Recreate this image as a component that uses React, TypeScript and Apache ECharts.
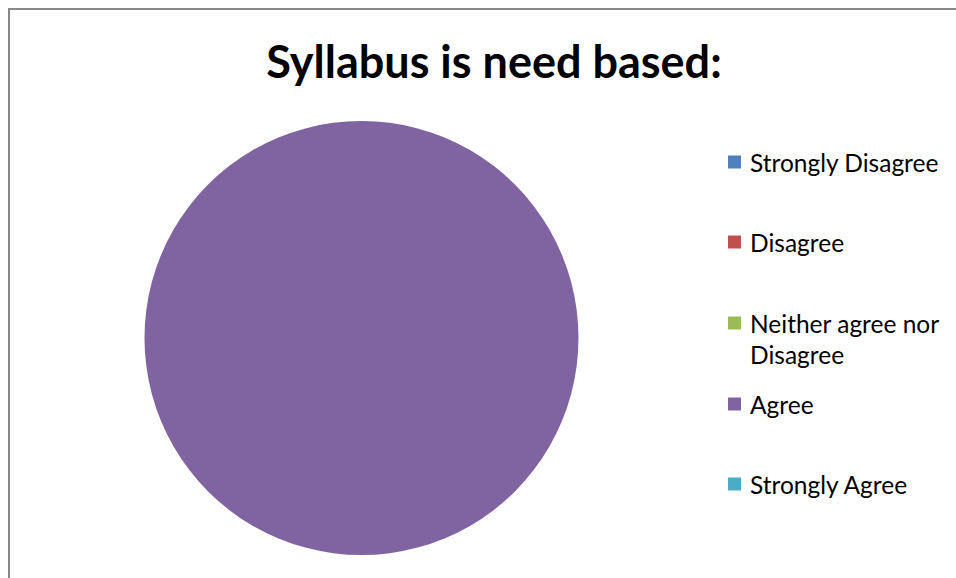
import React, { useEffect, useRef } from "react";
import * as echarts from "echarts";

const title = "Syllabus is need based:";
const categories = ["Strongly Disagree", "Disagree", "Neither agree nor Disagree", "Agree", "Strongly Agree"];
const legendLines = [["Strongly Disagree"], ["Disagree"], ["Neither agree nor", "Disagree"], ["Agree"], ["Strongly Agree"]];
const values = [0, 0, 0, 100, 0];
const colors = ["#4F81BD", "#C0504D", "#9BBB59", "#8064A2", "#4BACC6"];
const legendTops = [162, 242, 323, 404, 484];

export default function App() {
  const ref = useRef<HTMLDivElement>(null);
  useEffect(() => {
    const chart = echarts.init(ref.current!, null, { renderer: "svg" });
    const font = "Lato, 'Open Sans', sans-serif";
    const legendGraphics: any[] = [];
    categories.forEach((c, i) => {
      const y = legendTops[i];
      legendGraphics.push({
        type: "rect",
        shape: { x: 728, y: y - 6.5, width: 13, height: 13 },
        style: { fill: colors[i] },
      });
      legendLines[i].forEach((line, j) => {
        legendGraphics.push({
          type: "text",
          x: 750,
          y: y + j * 31,
          style: {
            text: line,
            font: `24.5px ${font}`,
            fill: "#000",
            textVerticalAlign: "middle",
            textAlign: "left",
          },
        });
      });
    });
    chart.setOption({
      animation: false,
      title: {
        text: title,
        left: 489,
        top: 33,
        textAlign: "center",
        textStyle: { fontFamily: font, fontSize: 45, fontWeight: "bold", color: "#000" },
      },
      graphic: [
        {
          type: "rect",
          shape: { x: 9, y: 9, width: 1200, height: 1200 },
          style: { fill: "none", stroke: "#888", lineWidth: 2 },
        },
        ...legendGraphics,
      ],
      series: [
        {
          type: "pie",
          center: [361.5, 338],
          radius: 217,
          startAngle: 90,
          label: { show: false },
          labelLine: { show: false },
          itemStyle: { borderWidth: 0 },
          emphasis: { disabled: true },
          data: categories.map((c, i) => ({ name: c, value: values[i], itemStyle: { color: colors[i] } })),
        },
      ],
    });
    return () => chart.dispose();
  }, []);
  return <div ref={ref} style={{ position: "fixed", left: 0, top: 0, width: 956, height: 578, background: "#fff" }} />;
}
